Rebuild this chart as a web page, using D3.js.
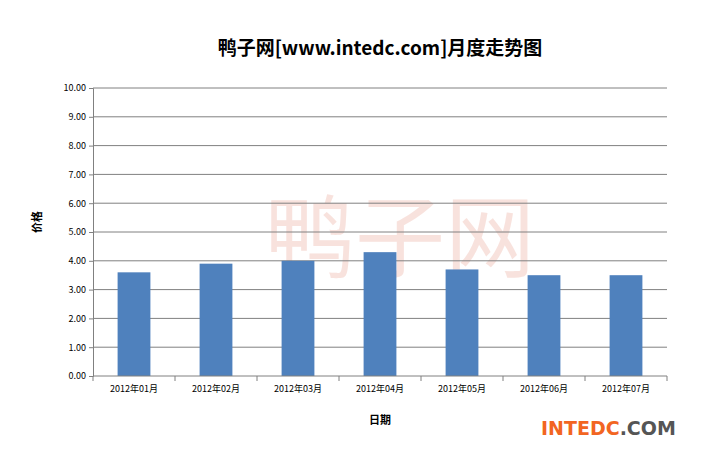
<!DOCTYPE html><html><head><meta charset="utf-8"><script src="https://cdn.jsdelivr.net/npm/d3@7"></script>
<style>body{margin:0;background:#fff}</style></head><body><svg id="c" width="702" height="450"></svg>
<script>
const categories=["2012年01月","2012年02月","2012年03月","2012年04月","2012年05月","2012年06月","2012年07月"];
const values=[3.6,3.9,4.0,4.3,3.7,3.5,3.5];
const ticks=[0,1,2,3,4,5,6,7,8,9,10];
const svg=d3.select("#c"),F="'Noto Sans CJK SC',sans-serif";
const x=d3.scaleBand().domain(categories).range([93,667]).paddingInner(0.6).paddingOuter(0.3);
const y=d3.scaleLinear().domain([0,10]).range([376,88]);
svg.append("text").attr("x",380).attr("y",55).attr("text-anchor","middle").attr("font-family",F).attr("font-size",19).attr("font-weight","bold").text("鸭子网[www.intedc.com]月度走势图");
svg.append("text").attr("x",400).attr("y",270).attr("text-anchor","middle").attr("font-family",F).attr("font-size",90).attr("fill","#f3c7bd").attr("opacity",0.5).text("鸭子网");
svg.append("g").selectAll("line").data(ticks.slice(1)).join("line").attr("x1",93).attr("x2",667).attr("y1",d=>y(d)).attr("y2",d=>y(d)).attr("stroke","#808080");
svg.append("g").selectAll("rect").data(values).join("rect").attr("x",(d,i)=>x(categories[i])).attr("width",x.bandwidth()).attr("y",d=>y(d)).attr("height",d=>y(0)-y(d)).attr("fill","#4f81bd");
const ya=svg.append("g").attr("transform","translate(93,0)").call(d3.axisLeft(y).tickValues(ticks).tickFormat(d3.format(".2f")).tickSize(4));
const xa=svg.append("g").attr("transform","translate(0,376)").call(d3.axisBottom(x).tickSize(0).tickPadding(10));
const xb=d3.scaleLinear().domain([0,7]).range([93,667]);
xa.selectAll(".tk").data(d3.range(8)).join("line").attr("x1",d=>xb(d)).attr("x2",d=>xb(d)).attr("y1",0).attr("y2",5).attr("stroke","#808080");
xa.select(".domain").attr("d","M93,0H667").attr("stroke","#808080");ya.select(".domain").attr("stroke","#808080");
svg.selectAll(".tick line").attr("stroke","#808080");
svg.selectAll(".tick text").attr("font-family",F).attr("font-size",9).attr("fill","#000");
svg.append("text").attr("x",380).attr("y",424).attr("text-anchor","middle").attr("font-family",F).attr("font-size",11).attr("font-weight","bold").text("日期");
svg.append("text").attr("transform","translate(41,222) rotate(-90)").attr("text-anchor","middle").attr("font-family",F).attr("font-size",11).attr("font-weight","bold").text("价格");
const t=svg.append("text").attr("x",541).attr("y",435).attr("font-family","'DejaVu Sans',sans-serif").attr("font-size",19).attr("font-weight","bold");
t.append("tspan").attr("fill","#f26522").text("INTEDC");t.append("tspan").attr("fill","#555").text(".COM");
</script></body></html>
